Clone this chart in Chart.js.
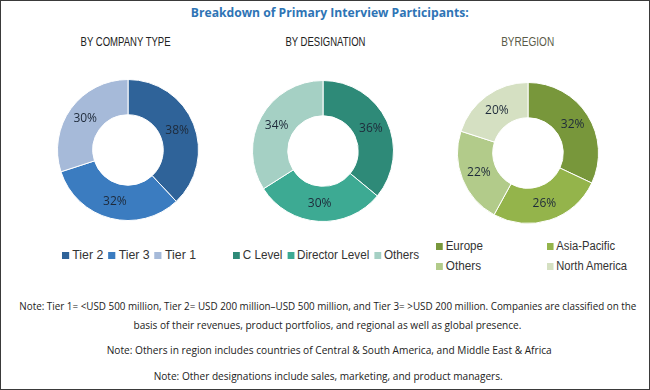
<!DOCTYPE html>
<html><head><meta charset="utf-8">
<script src="https://cdn.jsdelivr.net/npm/chart.js@4/dist/chart.umd.min.js"></script>
<style>
html,body{margin:0;padding:0;background:#fff;}
#frame{position:relative;width:650px;height:390px;overflow:hidden;background:#fff;}
#border{position:absolute;left:0;top:0;width:650px;height:390px;box-sizing:border-box;border:1px solid #3a3a3a;pointer-events:none;}
.fit{position:absolute;white-space:nowrap;display:inline-block;transform-origin:center center;}
#title{font:bold 13px "Open Sans",sans-serif;color:#2E74B5;}
.sub{font:12px "Liberation Sans",sans-serif;color:#222;}
.note{font:11px "Open Sans",sans-serif;color:#222;}
.leg{position:absolute;font:12px "Liberation Sans",sans-serif;color:#333;white-space:nowrap;line-height:14px;transform-origin:left center;}
.leg .item{margin-right:5px;}
.leg .item:last-child{margin-right:0;}
.leg .box{display:inline-block;width:7px;height:7px;margin-right:3px;vertical-align:0px;}
canvas{position:absolute;}
</style></head>
<body><div id="frame">
<canvas id="c1" width="142" height="142"></canvas>
<canvas id="c2" width="142" height="142"></canvas>
<canvas id="c3" width="142" height="142"></canvas>
<div id="legends"></div>
<div id="texts"></div>
<div id="border"></div>
</div>
<script>
// ---- data ----
const companyLabels = ['Tier 2', 'Tier 3', 'Tier 1'];
const companyValues = [38, 32, 30];
const designationLabels = ['C Level', 'Director Level', 'Others'];
const designationValues = [36, 30, 34];
const regionLabels = ['Europe', 'Asia-Pacific', 'Others', 'North America'];
const regionValues = [32, 26, 22, 20];
const titleText = 'Breakdown of Primary Interview Participants:';
const subtitles = ['BY COMPANY TYPE', 'BY DESIGNATION', 'BYREGION'];
const notes = [
  'Note: Tier 1= <USD 500 million, Tier 2= USD 200 million\u2013USD 500 million, and Tier 3= >USD 200 million. Companies are classified on the',
  'basis of their revenues, product portfolios, and regional as well as global presence.',
  'Note: Others in region includes countries of Central & South America, and Middle East & Africa',
  'Note: Other designations include sales, marketing, and product managers.'
];
// ---- styles ----
const companyColors = ['#2F6399', '#3B7CC0', '#A6BAD9'];
const designationColors = ['#2E8A78', '#3DAA93', '#A5D0C4'];
const regionColors = ['#78973B', '#94B44B', '#B2CB8A', '#D5E0C2'];

const pctPlugin = {
  id: 'pct',
  afterDatasetsDraw(chart) {
    const ctx = chart.ctx;
    const meta = chart.getDatasetMeta(0);
    ctx.save();
    ctx.font = '12px "Open Sans", sans-serif';
    ctx.fillStyle = '#1e2a3a';
    ctx.textAlign = 'center';
    ctx.textBaseline = 'middle';
    meta.data.forEach((arc, i) => {
      const p = arc.tooltipPosition();
      ctx.fillText(chart.data.datasets[0].data[i] + '%', p.x, p.y);
    });
    ctx.restore();
  }
};

function makeDonut(id, labels, values, colors, cx, cy) {
  const cv = document.getElementById(id);
  cv.style.left = (cx - 71) + 'px';
  cv.style.top = (cy - 71) + 'px';
  return new Chart(cv, {
    type: 'doughnut',
    data: { labels: labels, datasets: [{ data: values, backgroundColor: colors, borderColor: '#ffffff', borderWidth: 1 }] },
    options: {
      responsive: false, animation: false, cutout: '50%',
      layout: { padding: 0 },
      plugins: { legend: { display: false }, tooltip: { enabled: false } },
      events: []
    },
    plugins: [pctPlugin]
  });
}
const ch1 = makeDonut('c1', companyLabels, companyValues, companyColors, 128, 150);
const ch2 = makeDonut('c2', designationLabels, designationValues, designationColors, 323, 151);
const ch3 = makeDonut('c3', regionLabels, regionValues, regionColors, 528, 153);

// legends built from chart data: rows of items, each row fitted to a width
const legRoot = document.getElementById('legends');
function legendRow(chart, idxs, x, cy, w) {
  const ds = chart.data.datasets[0];
  const row = document.createElement('div');
  row.className = 'leg';
  row.innerHTML = idxs.map(i => '<span class="item"><span class="box" style="background:' +
    ds.backgroundColor[i] + '"></span>' + chart.data.labels[i] + '</span>').join('');
  legRoot.appendChild(row);
  const r = row.getBoundingClientRect();
  row.style.left = x + 'px';
  row.style.top = (cy - r.height / 2) + 'px';
  row.style.transform = 'scaleX(' + (w / r.width) + ')';
}
legendRow(ch1, [0, 1, 2], 62, 255, 134);
legendRow(ch2, [0, 1, 2], 233, 255, 186);
legendRow(ch3, [0], 436, 246, 47);
legendRow(ch3, [1], 547, 246, 68);
legendRow(ch3, [2], 436, 266, 45);
legendRow(ch3, [3], 547, 266, 80);

// texts fitted to target widths
const tRoot = document.getElementById('texts');
function addText(cls, txt, cx, cy, w, id) {
  const s = document.createElement('span');
  s.className = 'fit ' + cls;
  if (id) s.id = id;
  s.textContent = txt;
  tRoot.appendChild(s);
  const r = s.getBoundingClientRect();
  s.style.left = (cx - r.width / 2) + 'px';
  s.style.top = (cy - r.height / 2) + 'px';
  s.style.transform = 'scaleX(' + (w / r.width) + ')';
}
addText('', titleText, 330, 12, 278, 'title');
addText('sub', subtitles[0], 126, 42, 90);
addText('sub', subtitles[1], 325, 42, 80);
addText('sub', subtitles[2], 528, 42, 53);
addText('note', notes[0], 328, 305, 617);
addText('note', notes[1], 327, 324, 388);
addText('note', notes[2], 329, 349, 445);
addText('note', notes[3], 328, 375, 349);
document.querySelectorAll('.sub')[2].style.color = '#5a5a48';
</script>
</body></html>
